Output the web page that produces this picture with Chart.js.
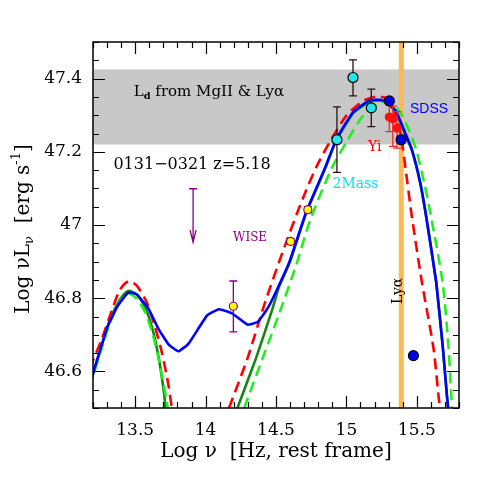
<!DOCTYPE html>
<html>
<head>
<meta charset="utf-8">
<script src="https://cdn.jsdelivr.net/npm/chart.js@4.4.1/dist/chart.umd.min.js"></script>
<style>
  body { margin: 0; background: #fff; }
  canvas { display: block; }
</style>
</head>
<body>
<canvas id="sed" width="501" height="501"></canvas>
<script>
// total model (blue)
const blueX = [13.18, 13.247, 13.307, 13.379, 13.45, 13.509, 13.593, 13.664, 13.736, 13.807, 13.879, 14.011, 14.095, 14.19, 14.297, 14.369, 14.44, 14.51, 14.595, 14.714, 14.845, 14.929, 15.047, 15.166, 15.238, 15.297, 15.357, 15.416, 15.464, 15.524, 15.566, 15.638, 15.686, 15.714, 15.725];
const blueY = [46.57, 46.654, 46.726, 46.781, 46.815, 46.811, 46.772, 46.717, 46.674, 46.655, 46.676, 46.753, 46.77, 46.758, 46.728, 46.735, 46.772, 46.826, 46.899, 47.035, 47.153, 47.235, 47.308, 47.341, 47.342, 47.335, 47.308, 47.253, 47.208, 47.117, 47.026, 46.845, 46.663, 46.535, 46.49];

// red dashed
const redTorusX = [13.176, 13.259, 13.331, 13.39, 13.45, 13.509, 13.58, 13.64, 13.688, 13.736, 13.76];
const redTorusY = [46.608, 46.685, 46.763, 46.822, 46.846, 46.835, 46.79, 46.722, 46.654, 46.563, 46.5];
const redDiskX = [14.166, 14.297, 14.416, 14.547, 14.69, 14.786, 14.881, 15.0, 15.119, 15.214, 15.297, 15.34, 15.385, 15.433, 15.464, 15.536, 15.619, 15.654, 15.668];
const redDiskY = [46.5, 46.635, 46.781, 46.926, 47.072, 47.158, 47.226, 47.299, 47.339, 47.351, 47.344, 47.31, 47.25, 47.117, 47.026, 46.845, 46.663, 46.535, 46.49];

// light green dashed
const lgTorusX = [13.176, 13.247, 13.319, 13.39, 13.45, 13.509, 13.569, 13.629, 13.676, 13.724, 13.73];
const lgTorusY = [46.558, 46.644, 46.731, 46.79, 46.813, 46.799, 46.763, 46.695, 46.617, 46.517, 46.5];
const lgDiskX = [14.274, 14.404, 14.536, 14.643, 14.738, 14.893, 15.0, 15.119, 15.238, 15.31, 15.381, 15.452, 15.5, 15.552, 15.6, 15.683, 15.726, 15.745, 15.752];
const lgDiskY = [46.5, 46.635, 46.772, 46.89, 47.008, 47.153, 47.226, 47.299, 47.335, 47.335, 47.308, 47.253, 47.2, 47.117, 47.026, 46.845, 46.663, 46.535, 46.49];

// dark green solid
const dgTorusX = [13.176, 13.25, 13.32, 13.39, 13.45, 13.51, 13.57, 13.63, 13.67, 13.705, 13.715];
const dgTorusY = [46.56, 46.655, 46.74, 46.795, 46.82, 46.81, 46.775, 46.705, 46.63, 46.54, 46.5];
const dgDiskX = [14.226, 14.357, 14.476, 14.52, 14.6, 14.714, 14.845, 14.929, 15.047, 15.166, 15.238, 15.297, 15.357, 15.416, 15.464, 15.524, 15.566, 15.638, 15.686, 15.714, 15.725];
const dgDiskY = [46.5, 46.635, 46.772, 46.83, 46.9, 47.033, 47.15, 47.232, 47.305, 47.338, 47.34, 47.333, 47.305, 47.25, 47.205, 47.115, 47.024, 46.843, 46.661, 46.533, 46.49];

// photometry
const massX = [14.933, 15.047, 15.177];
const massY = [47.233, 47.403, 47.32];
const massLo = [47.144, 47.353, 47.269];
const massHi = [47.323, 47.451, 47.371];

const sdssX = [15.305, 15.389, 15.476];
const sdssY = [47.339, 47.233, 46.643];
const sdssLo = [47.33, 47.225, 46.634];
const sdssHi = [47.348, 47.241, 46.652];

const yiX = [15.305, 15.33, 15.36];
const yiY = [47.295, 47.29, 47.265];
const yiLo = [47.255, 47.215, 47.21];
const yiHi = [47.34, 47.325, 47.31];

const wiseX = [14.197, 14.604, 14.726];
const wiseY = [46.778, 46.955, 47.042];
const wiseLo = [46.708, 46.947, 47.034];
const wiseHi = [46.847, 46.963, 47.05];

const limitX = 13.911, limitTop = 47.099, limitTip = 46.953;

const lyaX = 15.39;
const bandLow = 47.22, bandHigh = 47.425;

const xMin = 13.2, xMax = 15.8, yMin = 46.5, yMax = 47.5;

const SERIF = "'DejaVu Serif', serif";
const SANS = "'Liberation Sans', Arial, sans-serif";

function pts(xs, ys) { return xs.map((x, i) => ({x: x, y: ys[i]})); }

function curve(label, xs, ys, color, dash, order, tension) {
  return {
    type: 'line', label: label, data: pts(xs, ys),
    borderColor: color, borderWidth: 2.6, borderDash: dash,
    pointRadius: 0, tension: tension, fill: false, order: order
  };
}

function markers(label, xs, ys, fill, edge, r, style) {
  return {
    type: 'scatter', label: label, data: pts(xs, ys),
    backgroundColor: fill, borderColor: edge, borderWidth: 1.2,
    pointRadius: r, pointStyle: style || 'circle', order: 0
  };
}

// rich text: runs of {t, sub, sup}
function richWidth(ctx, runs, size, family) {
  let w = 0;
  runs.forEach(r => {
    ctx.font = ((r.sub || r.sup) ? size * 0.65 : size) + 'px ' + family;
    w += ctx.measureText(r.t).width;
  });
  return w;
}
function drawRich(ctx, runs, x, y, size, family) {
  let cx = x;
  runs.forEach(r => {
    const s = (r.sub || r.sup) ? size * 0.65 : size;
    ctx.font = (r.bold ? 'bold ' : '') + s + 'px ' + family;
    const dy = r.sub ? size * 0.3 : (r.sup ? -size * 0.38 : 0);
    ctx.fillText(r.t, cx, y + dy);
    cx += ctx.measureText(r.t).width;
  });
}

const errorSets = [
  {xs: massX, lo: massLo, hi: massHi, color: '#2a1010'},
  {xs: sdssX, lo: sdssLo, hi: sdssHi, color: '#0000ff'},
  {xs: yiX, lo: yiLo, hi: yiHi, color: '#ff2020'},
  {xs: wiseX, lo: wiseLo, hi: wiseHi, color: '#880088'}
];

const sedPlugin = {
  id: 'sed',
  beforeDatasetsDraw(chart) {
    const {ctx, chartArea: a, scales: {x, y}} = chart;
    ctx.save();
    ctx.fillStyle = '#c8c8c8';
    const t = y.getPixelForValue(bandHigh), b = y.getPixelForValue(bandLow);
    ctx.fillRect(a.left, t, a.right - a.left, b - t);
    ctx.restore();
  },
  afterDatasetDraw(chart, args) {
    if (args.meta.label !== 'total') return;
    const {ctx, scales: {x, y}} = chart;
    ctx.save();
    ctx.lineWidth = 1.3;
    errorSets.forEach(s => {
      ctx.strokeStyle = s.color;
      s.xs.forEach((xv, i) => {
        const px = x.getPixelForValue(xv);
        const p1 = y.getPixelForValue(s.lo[i]), p2 = y.getPixelForValue(s.hi[i]);
        ctx.beginPath();
        ctx.moveTo(px, p1); ctx.lineTo(px, p2);
        ctx.moveTo(px - 4, p1); ctx.lineTo(px + 4, p1);
        ctx.moveTo(px - 4, p2); ctx.lineTo(px + 4, p2);
        ctx.stroke();
      });
    });
    // WISE upper limit
    const lx = x.getPixelForValue(limitX);
    const lt = y.getPixelForValue(limitTop), lb = y.getPixelForValue(limitTip);
    ctx.strokeStyle = '#880088';
    ctx.beginPath();
    ctx.moveTo(lx - 4, lt); ctx.lineTo(lx + 4, lt);
    ctx.moveTo(lx, lt); ctx.lineTo(lx, lb);
    ctx.moveTo(lx - 3, lb - 12); ctx.lineTo(lx, lb); ctx.lineTo(lx + 3, lb - 12);
    ctx.stroke();
    ctx.restore();
  },
  afterDraw(chart) {
    const {ctx, chartArea: a, scales: {x, y}} = chart;
    ctx.save();
    // frame
    ctx.strokeStyle = '#000';
    ctx.lineWidth = 1.5;
    ctx.strokeRect(a.left, a.top, a.right - a.left, a.bottom - a.top);
    // inward ticks on all four sides
    ctx.lineWidth = 1.2;
    ctx.beginPath();
    x.ticks.forEach(t => {
      const px = Math.round(x.getPixelForValue(t.value)) + 0.5;
      const len = t.label ? 12 : 6;
      ctx.moveTo(px, a.bottom); ctx.lineTo(px, a.bottom - len);
      ctx.moveTo(px, a.top); ctx.lineTo(px, a.top + len);
    });
    y.ticks.forEach(t => {
      const py = Math.round(y.getPixelForValue(t.value)) + 0.5;
      const len = t.label ? 12 : 6;
      ctx.moveTo(a.left, py); ctx.lineTo(a.left + len, py);
      ctx.moveTo(a.right, py); ctx.lineTo(a.right - len, py);
    });
    ctx.stroke();

    // annotations
    ctx.textBaseline = 'middle';
    ctx.textAlign = 'left';
    ctx.fillStyle = '#000';
    drawRich(ctx, [{t: 'L'}, {t: 'd', sub: true, bold: true}, {t: ' from MgII & Ly\u03b1'}],
      x.getPixelForValue(13.49), y.getPixelForValue(47.363), 15, SERIF);
    ctx.font = '16px ' + SERIF;
    ctx.fillText('0131\u22120321 z=5.18', x.getPixelForValue(13.345), y.getPixelForValue(47.164));
    ctx.fillStyle = '#0000ff';
    ctx.font = '14px ' + SANS;
    ctx.fillText('SDSS', x.getPixelForValue(15.452), y.getPixelForValue(47.317));
    ctx.fillStyle = '#ff0000';
    ctx.font = '14px ' + SERIF;
    ctx.fillText('Yi', x.getPixelForValue(15.153), y.getPixelForValue(47.213));
    ctx.fillStyle = '#11e0f0';
    ctx.font = '14px ' + SERIF;
    ctx.fillText('2Mass', x.getPixelForValue(14.902), y.getPixelForValue(47.112));
    ctx.fillStyle = '#880088';
    ctx.font = '12px ' + SERIF;
    ctx.fillText('WISE', x.getPixelForValue(14.195), y.getPixelForValue(46.965));
    // Ly alpha, rotated
    ctx.save();
    ctx.translate(x.getPixelForValue(15.37), y.getPixelForValue(46.82));
    ctx.rotate(-Math.PI / 2);
    ctx.textAlign = 'center';
    ctx.fillStyle = '#000';
    ctx.font = '14px ' + SERIF;
    ctx.fillText('Ly\u03b1', 0, 0);
    ctx.restore();

    // axis titles
    ctx.fillStyle = '#000';
    ctx.textAlign = 'left';
    const xt = [{t: 'Log \u03bd  [Hz, rest frame]'}];
    const xw = richWidth(ctx, xt, 20, SERIF);
    drawRich(ctx, xt, (a.left + a.right) / 2 - xw / 2, 452, 20, SERIF);
    const yt = [{t: 'Log \u03bdL'}, {t: '\u03bd', sub: true}, {t: '  [erg s'}, {t: '-1', sup: true}, {t: ']'}];
    const yw = richWidth(ctx, yt, 20, SERIF);
    ctx.save();
    ctx.translate(24, (a.top + a.bottom) / 2 + 4);
    ctx.rotate(-Math.PI / 2);
    drawRich(ctx, yt, -yw / 2, 0, 20, SERIF);
    ctx.restore();
    ctx.restore();
  }
};

function isMajor(v, per) { return Math.abs(v * per - Math.round(v * per)) < 1e-6; }

new Chart(document.getElementById('sed'), {
  data: {
    datasets: [
      markers('2Mass', massX, massY, '#22e6f0', '#000', 5),
      markers('SDSS', sdssX, sdssY, '#0000ee', '#000', 5),
      markers('Yi', yiX, yiY, '#ff1010', '#ff1010', 4),
      markers('WISE', wiseX, wiseY, '#ffff00', '#880088', 4),
      curve('total', blueX, blueY, '#0000ff', [], 1, 0.12),
      curve('red torus', redTorusX, redTorusY, '#ff0000', [11, 6], 2, 0.25),
      curve('red disk', redDiskX, redDiskY, '#ff0000', [11, 6], 2, 0.25),
      curve('lg torus', lgTorusX, lgTorusY, '#22ee22', [11, 6], 3, 0.25),
      curve('lg disk', lgDiskX, lgDiskY, '#22ee22', [11, 6], 3, 0.25),
      curve('dg torus', dgTorusX, dgTorusY, '#118811', [], 4, 0.25),
      curve('dg disk', dgDiskX, dgDiskY, '#118811', [], 4, 0.12),
      {type: 'line', label: 'Lya', data: [{x: lyaX, y: yMin}, {x: lyaX, y: yMax}],
       borderColor: '#ffb950', borderWidth: 5, pointRadius: 0, order: 9}
    ]
  },
  options: {
    responsive: false,
    animation: false,
    layout: {padding: {top: 42, right: 42, left: 0, bottom: 0}},
    plugins: {legend: {display: false}, tooltip: {enabled: false}},
    scales: {
      x: {
        type: 'linear', min: xMin, max: xMax,
        afterFit: s => { s.height = 93; },
        grid: {display: false, drawTicks: false},
        border: {display: false},
        ticks: {
          stepSize: 0.1, autoSkip: false, maxRotation: 0, padding: 12,
          color: '#000', font: {family: SERIF, size: 17},
          callback: v => isMajor(v, 2) ? String(Math.round(v * 10) / 10) : ''
        }
      },
      y: {
        type: 'linear', min: yMin, max: yMax,
        afterFit: s => { s.width = 93; },
        grid: {display: false, drawTicks: false},
        border: {display: false},
        ticks: {
          stepSize: 0.05, autoSkip: false, padding: 11,
          color: '#000', font: {family: SERIF, size: 17},
          callback: v => isMajor(v, 5) ? String(Math.round(v * 10) / 10) : ''
        }
      }
    }
  },
  plugins: [sedPlugin]
});
</script>
</body>
</html>
